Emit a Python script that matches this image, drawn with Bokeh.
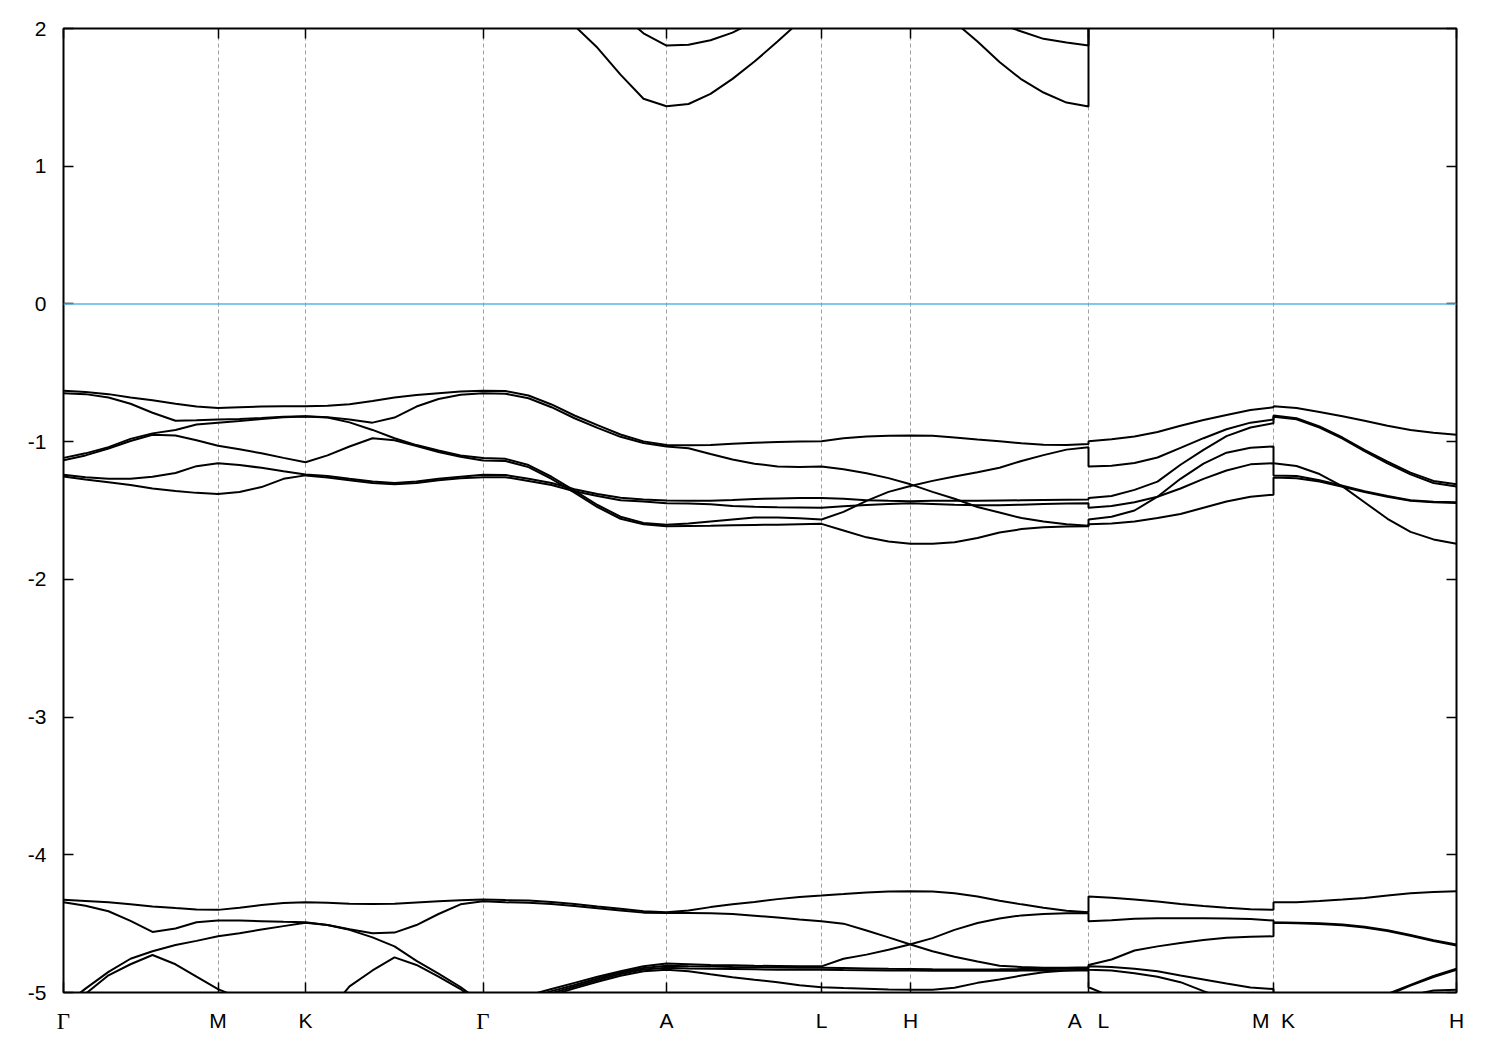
import numpy as np
from bokeh.plotting import figure
from bokeh.models import (Range1d, FixedTicker, LinearAxis, Span,
                          CustomLabelingPolicy)
from bokeh.embed import file_html
from bokeh.resources import INLINE

nan = float("nan")

# high-symmetry points along the k-path (path units)
K_LABEL_POS = [0.0, 1.545, 2.42, 4.195, 6.03, 7.58, 8.47, 10.25, 12.10, 13.93]
K_LABELS = ["\u0393", "M", "K", "\u0393", "A", "L", "H",
            "A\u00a0\u00a0\u2009L", "M\u00a0\u00a0K", "H"]
GAMMA_IDX = [0, 3]   # labels drawn in a serif (symbol-like) face

Y_TICKS = [-5, -4, -3, -2, -1, 0, 1, 2]
Y_LABELS = ["-5", "-4", "-3", "-2", "-1", "0", "1", "2"]

# k sample positions (path units), L and K repeated at the path breaks
K = [
    0.0, 0.22, 0.45, 0.67, 0.89, 1.12, 1.33, 1.545,          # G-M
    1.76, 1.98, 2.20, 2.42,                                  # M-K
    2.64, 2.86, 3.09, 3.31, 3.53, 3.75, 3.97, 4.195,         # K-G
    4.42, 4.65, 4.88, 5.11, 5.34, 5.57, 5.80, 6.03,          # G-A
    6.25, 6.47, 6.69, 6.91, 7.14, 7.36, 7.58,                # A-L
    7.80, 8.03, 8.25, 8.47,                                  # L-H
    8.69, 8.91, 9.14, 9.36, 9.58, 9.80, 10.03, 10.25,        # H-A
    10.25,                                                   # L
    10.48, 10.71, 10.94, 11.17, 11.40, 11.63, 11.87, 12.10,  # L-M
    12.10,                                                   # K
    12.33, 12.56, 12.79, 13.01, 13.24, 13.47, 13.70, 13.93,  # K-H
]

VB1 = [
    -0.63, -0.64, -0.655, -0.68, -0.70, -0.725, -0.745, -0.755,
    -0.75, -0.745, -0.743, -0.743,
    -0.74, -0.728, -0.705, -0.68, -0.662, -0.648, -0.636, -0.63,
    -0.633, -0.665, -0.73, -0.81, -0.88, -0.948, -0.998, -1.025,
    -1.027, -1.025, -1.015, -1.008, -1.002, -0.999, -0.997,
    -0.975, -0.962, -0.957, -0.955,
    -0.958, -0.97, -0.985, -0.997, -1.012, -1.023, -1.025, -1.018,
    -0.997,
    -0.983, -0.962, -0.93, -0.885, -0.843, -0.806, -0.77, -0.75,
    -0.743,
    -0.755, -0.785, -0.815, -0.848, -0.885, -0.915, -0.936, -0.95,
]
VB2 = [
    -0.648, -0.655, -0.68, -0.725, -0.79, -0.848, -0.845, -0.84,
    -0.835, -0.828, -0.82, -0.815,
    -0.822, -0.84, -0.862, -0.825, -0.745, -0.69, -0.66, -0.648,
    -0.652, -0.685, -0.75, -0.83, -0.90, -0.965, -1.01, -1.035,
    -1.048, -1.09, -1.13, -1.16, -1.18, -1.185, -1.18,
    -1.20, -1.23, -1.265, -1.31,
    -1.365, -1.415, -1.475, -1.515, -1.555, -1.58, -1.60, -1.61,
    -1.565,
    -1.545, -1.50, -1.40, -1.27, -1.16, -1.08, -1.045, -1.035,
    -1.157,
    -1.177, -1.235, -1.325, -1.44, -1.56, -1.655, -1.71, -1.742,
]
VB3 = [
    -1.118, -1.085, -1.04, -0.98, -0.94, -0.915, -0.875, -0.862,
    -0.85, -0.835, -0.822, -0.818,
    -0.825, -0.86, -0.915, -0.975, -1.025, -1.065, -1.10, -1.118,
    -1.125, -1.17, -1.255, -1.355, -1.46, -1.545, -1.59, -1.603,
    -1.595, -1.58, -1.565, -1.55, -1.55, -1.557, -1.565,
    -1.51, -1.43, -1.365, -1.322,
    -1.285, -1.253, -1.223, -1.19, -1.14, -1.098, -1.058, -1.04,
    -1.18,
    -1.175, -1.155, -1.115, -1.045, -0.975, -0.91, -0.862, -0.84,
    -0.81,
    -0.83, -0.89, -0.97, -1.06, -1.145, -1.225, -1.285, -1.31,
]
VB4 = [
    -1.135, -1.10, -1.05, -0.995, -0.95, -0.955, -0.99, -1.03,
    -1.055, -1.085, -1.118, -1.15,
    -1.10, -1.035, -0.975, -0.99, -1.032, -1.075, -1.11, -1.137,
    -1.14, -1.185, -1.27, -1.37, -1.475, -1.56, -1.60, -1.615,
    -1.612, -1.61, -1.607, -1.605, -1.603, -1.60, -1.597,
    -1.645, -1.695, -1.725, -1.742,
    -1.742, -1.73, -1.70, -1.66, -1.635, -1.622, -1.617, -1.614,
    -1.60,
    -1.595, -1.58, -1.555, -1.525, -1.48, -1.435, -1.40, -1.385,
    -1.26,
    -1.265, -1.29, -1.328, -1.366, -1.40, -1.43, -1.44, -1.445,
]
VB5 = [
    -1.24, -1.258, -1.27, -1.27, -1.255, -1.228, -1.178, -1.157,
    -1.17, -1.19, -1.215, -1.238,
    -1.25, -1.27, -1.29, -1.30, -1.29, -1.27, -1.255, -1.24,
    -1.243, -1.27, -1.30, -1.345, -1.38, -1.408, -1.42, -1.428,
    -1.43, -1.43, -1.424, -1.417, -1.412, -1.41, -1.41,
    -1.415, -1.425, -1.43, -1.433,
    -1.43, -1.43, -1.43, -1.428, -1.426, -1.424, -1.422, -1.42,
    -1.41,
    -1.395, -1.35, -1.29, -1.168, -1.06, -0.96, -0.897, -0.866,
    -0.82,
    -0.838, -0.898, -0.978, -1.068, -1.158, -1.238, -1.30, -1.325,
]
VB6 = [
    -1.253, -1.275, -1.295, -1.315, -1.34, -1.358, -1.372, -1.38,
    -1.365, -1.33, -1.27, -1.245,
    -1.26, -1.28, -1.30, -1.31, -1.30, -1.28, -1.265, -1.258,
    -1.258, -1.285, -1.315, -1.36, -1.395, -1.425, -1.435, -1.447,
    -1.45, -1.455, -1.467, -1.473, -1.476, -1.478, -1.48,
    -1.47, -1.46, -1.452, -1.447,
    -1.452, -1.458, -1.462, -1.462, -1.458, -1.453, -1.45, -1.448,
    -1.48,
    -1.468, -1.44, -1.40, -1.34, -1.27, -1.21, -1.165, -1.157,
    -1.245,
    -1.25, -1.28, -1.32, -1.36, -1.395, -1.425, -1.437, -1.44,
]

LB1 = [
    -4.327, -4.335, -4.345, -4.36, -4.375, -4.387, -4.397, -4.40,
    -4.385, -4.365, -4.35, -4.344,
    -4.348, -4.355, -4.357, -4.356, -4.347, -4.338, -4.33, -4.325,
    -4.329, -4.332, -4.342, -4.357, -4.375, -4.392, -4.41, -4.417,
    -4.405, -4.38, -4.36, -4.343, -4.322, -4.306, -4.296,
    -4.285, -4.273, -4.267, -4.265,
    -4.266, -4.28, -4.303, -4.333, -4.36, -4.385, -4.407, -4.417,
    -4.303,
    -4.312, -4.325, -4.34, -4.357, -4.372, -4.385, -4.395, -4.40,
    -4.344,
    -4.344, -4.335, -4.325, -4.313, -4.295, -4.28, -4.27, -4.265,
]
LB2 = [
    -4.344, -4.37, -4.41, -4.48, -4.56, -4.535, -4.49, -4.477,
    -4.478, -4.482, -4.487, -4.49,
    -4.51, -4.54, -4.57, -4.565, -4.51, -4.43, -4.36, -4.337,
    -4.345, -4.349, -4.358, -4.372, -4.388, -4.404, -4.42, -4.422,
    -4.422, -4.425, -4.43, -4.442, -4.455, -4.47, -4.482,
    -4.50, -4.55, -4.60, -4.651,
    -4.70, -4.74, -4.775, -4.805, -4.815, -4.82, -4.82, -4.817,
    -4.80,
    -4.76, -4.695, -4.665, -4.64, -4.618, -4.603, -4.595, -4.592,
    -4.494,
    -4.497, -4.502, -4.512, -4.528, -4.553, -4.588, -4.627, -4.659,
]
LB3 = [
    -5.095, -4.972, -4.85, -4.755, -4.70, -4.655, -4.625, -4.592,
    -4.57, -4.543, -4.518, -4.494,
    -4.51, -4.545, -4.60, -4.665, -4.77, -4.863, -4.96, -5.08,
    -5.06, -5.02, -4.975, -4.93, -4.885, -4.845, -4.81, -4.79,
    -4.795, -4.80, -4.803, -4.806, -4.808, -4.81, -4.81,
    -4.755, -4.725, -4.69, -4.65,
    -4.605, -4.545, -4.495, -4.462, -4.44, -4.43, -4.425, -4.422,
    -4.482,
    -4.475, -4.465, -4.46, -4.46, -4.46, -4.462, -4.467, -4.477,
    -4.49,
    -4.493, -4.498, -4.507, -4.522, -4.547, -4.582, -4.62, -4.652,
]
LB4 = [
    -5.12, -5.01, -4.875, -4.795, -4.728, -4.795, -4.885, -4.975,
    -5.04, -5.2, -5.3, -5.3,
    -5.15, -4.955, -4.84, -4.745, -4.80, -4.885, -4.975, -5.1,
    -5.08, -5.04, -4.99, -4.945, -4.898, -4.855, -4.822, -4.805,
    -4.81, -4.812, -4.815, -4.817, -4.818, -4.82, -4.82,
    -4.822, -4.825, -4.828, -4.83,
    -4.832, -4.833, -4.833, -4.832, -4.83, -4.83, -4.828, -4.826,
    -4.81,
    -4.815, -4.828, -4.845, -4.877, -4.905, -4.935, -4.963, -4.975,
    -5.3,
    -5.3, -5.25, -5.18, -5.08, -5.01, -4.945, -4.88, -4.828,
]
LB5 = [
    -5.3, -5.3, -5.28, -5.25, -5.22, -5.2, -5.2, -5.2,
    -5.2, -5.22, -5.25, -5.3,
    -5.3, -5.3, -5.28, -5.25, -5.22, -5.2, -5.17, -5.12,
    -5.10, -5.06, -5.005, -4.958, -4.91, -4.866, -4.833, -4.82,
    -4.825, -4.828, -4.83, -4.832, -4.834, -4.835, -4.835,
    -4.837, -4.838, -4.84, -4.84,
    -4.842, -4.842, -4.842, -4.842, -4.841, -4.841, -4.84, -4.84,
    -4.962,
    -5.03, -5.08, -5.12, -5.15, -5.18, -5.2, -5.2, -5.2,
    -5.3,
    -5.3, -5.28, -5.2, -5.09, -5.02, -4.95, -4.888, -4.836,
]
LB6 = [
    -5.35, -5.35, -5.33, -5.3, -5.28, -5.26, -5.25, -5.25,
    -5.25, -5.27, -5.3, -5.35,
    -5.35, -5.35, -5.33, -5.3, -5.27, -5.24, -5.2, -5.15,
    -5.12, -5.08, -5.02, -4.97, -4.922, -4.878, -4.845, -4.835,
    -4.845, -4.868, -4.89, -4.908, -4.925, -4.948, -4.962,
    -4.968, -4.973, -4.978, -4.98,
    -4.98, -4.965, -4.93, -4.905, -4.877, -4.853, -4.84, -4.833,
    -4.835,
    -4.84, -4.86, -4.885, -4.925, -4.99, -5.05, -5.08, -5.1,
    -5.35,
    -5.35, -5.3, -5.2, -5.15, -5.1, -5.02, -4.985, -4.98,
]

# conduction bands, sampled on the G-A-L-H-A|L part of the path (K[20:48])
CB1 = [
    nan, nan, 2.18, 2.02, 1.86, 1.665, 1.49, 1.435,
    1.452, 1.525, 1.634, 1.76, 1.905, 2.05, 2.2,
    2.3, 2.35, 2.35, 2.3,
    2.18, 2.048, 1.905, 1.757, 1.63, 1.535, 1.462, 1.434,
    2.4,
]
CB2 = [
    nan, nan, nan, nan, 2.25, 2.11, 1.965, 1.876,
    1.882, 1.915, 1.97, 2.05, 2.15, 2.25, 2.35,
    2.4, 2.45, 2.45, 2.4,
    2.2, 2.15, 2.09, 2.035, 1.978, 1.925, 1.899, 1.877,
    2.6,
]

BANDS = [VB1, VB2, VB3, VB4, VB5, VB6, LB1, LB2, LB3, LB4, LB5, LB6]
for b in BANDS:
    if len(b) != len(K):
        raise ValueError("band length %d != %d" % (len(b), len(K)))
K_CB = K[20:48]

FONT = "Liberation Sans"
LINE_W = 2.0

p = figure(width=1492, height=1042, output_backend="svg", toolbar_location=None,
           x_range=Range1d(K_LABEL_POS[0], K_LABEL_POS[-1]),
           y_range=Range1d(-5, 2),
           min_border_left=63, min_border_right=36,
           min_border_top=28, min_border_bottom=50,
           x_axis_location=None, y_axis_location=None)
p.background_fill_color = "white"
p.border_fill_color = "white"
p.outline_line_color = "black"
p.outline_line_width = 2

xticker = FixedTicker(ticks=K_LABEL_POS)
yticker = FixedTicker(ticks=Y_TICKS)
xlabels = {pos: lab for pos, lab in zip(K_LABEL_POS, K_LABELS)}
ylabels = {t: lab for t, lab in zip(Y_TICKS, Y_LABELS)}
gamma_pos = [K_LABEL_POS[i] for i in GAMMA_IDX]
gamma_labels = {K_LABEL_POS[i]: K_LABELS[i] for i in GAMMA_IDX}

hide_all = CustomLabelingPolicy(
    code="for (const i of Array.from(indices)) { indices.unset(i) } return indices")
hide_gamma = CustomLabelingPolicy(
    args=dict(skip=GAMMA_IDX),
    code="for (const i of skip) { indices.unset(i) } return indices")


def style_axis(ax):
    ax.axis_line_color = None
    ax.major_tick_in = 10
    ax.major_tick_out = 0
    ax.minor_tick_line_color = None
    ax.major_tick_line_color = "black"
    ax.major_tick_line_width = 1.5
    ax.major_label_text_font = FONT
    ax.major_label_text_color = "black"
    ax.major_label_text_font_size = "21px"


bottom = LinearAxis(ticker=xticker, major_label_overrides=xlabels,
                    major_label_policy=hide_gamma)
style_axis(bottom)
bottom.major_label_standoff = 16
p.add_layout(bottom, "below")

# second bottom axis: only the Gamma labels, in a serif face, pulled up
# to the same line as the other labels
gamma_axis = LinearAxis(ticker=FixedTicker(ticks=gamma_pos),
                        major_label_overrides=gamma_labels)
gamma_axis.axis_line_color = None
gamma_axis.major_tick_line_color = None
gamma_axis.major_tick_in = 0
gamma_axis.major_tick_out = 0
gamma_axis.minor_tick_line_color = None
gamma_axis.major_label_text_font = "Liberation Serif"
gamma_axis.major_label_text_font_size = "23px"
gamma_axis.major_label_text_color = "black"
gamma_axis.major_label_standoff = -26
p.add_layout(gamma_axis, "below")

top = LinearAxis(ticker=xticker, major_label_policy=hide_all)
style_axis(top)
p.add_layout(top, "above")

left = LinearAxis(ticker=yticker, major_label_overrides=ylabels)
style_axis(left)
left.major_label_standoff = 17
p.add_layout(left, "left")

right = LinearAxis(ticker=yticker, major_label_policy=hide_all)
style_axis(right)
p.add_layout(right, "right")

p.xgrid.ticker = FixedTicker(ticks=K_LABEL_POS[1:-1])
p.xgrid.grid_line_color = "#a0a0a0"
p.xgrid.grid_line_dash = "4 3"
p.xgrid.grid_line_width = 1
p.ygrid.visible = False

p.add_layout(Span(location=0, dimension="width", line_color="#56b4e9", line_width=1.5))

for b in BANDS:
    p.line(K, np.array(b, dtype=float), line_color="black", line_width=LINE_W)
for b in (CB1, CB2):
    p.line(K_CB, np.array(b, dtype=float), line_color="black", line_width=LINE_W)

open("out.html", "w").write(file_html(p, INLINE))
